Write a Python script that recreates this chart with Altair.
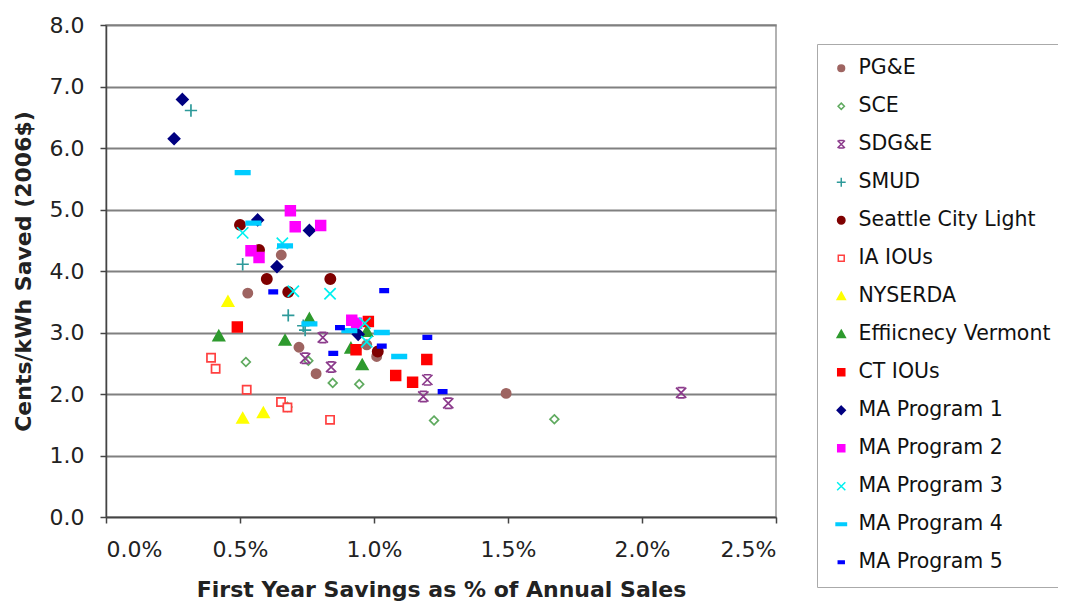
import altair as alt
import pandas as pd

series_names = ["PG&E", "SCE", "SDG&E", "SMUD", "Seattle City Light", "IA IOUs",
                "NYSERDA", "Effiicnecy Vermont", "CT IOUs", "MA Program 1",
                "MA Program 2", "MA Program 3", "MA Program 4", "MA Program 5"]

# x = first-year savings (% of annual sales), y = cents/kWh saved (2006$)
pge_x = [0.654, 0.529, 0.720, 0.973, 1.010, 0.784, 1.493]
pge_y = [4.26, 3.64, 2.76, 2.80, 2.61, 2.33, 2.01]
sce_x = [0.522, 0.755, 0.846, 0.945, 0.677, 1.224, 1.673]
sce_y = [2.52, 2.54, 2.18, 2.16, 1.79, 1.57, 1.59]
sdge_x = [0.809, 0.743, 0.840, 1.199, 1.184, 1.277, 2.146]
sdge_y = [2.92, 2.58, 2.44, 2.23, 1.96, 1.85, 2.02]
smud_x = [0.317, 0.510, 0.680, 0.736, 0.743]
smud_y = [6.61, 4.11, 3.28, 3.11, 3.04]
scl_x = [0.500, 0.571, 0.600, 0.837, 0.680, 1.014]
scl_y = [4.75, 4.34, 3.87, 3.87, 3.66, 2.69]
ia_x = [0.392, 0.409, 0.525, 0.653, 0.677, 0.836]
ia_y = [2.59, 2.41, 2.07, 1.87, 1.78, 1.58]
nyserda_x = [0.455, 0.510, 0.587]
nyserda_y = [3.50, 1.60, 1.69]
ev_x = [0.759, 0.421, 0.973, 0.668, 0.914, 0.956]
ev_y = [3.22, 2.94, 3.01, 2.87, 2.74, 2.47]
ct_x = [0.490, 0.979, 0.933, 1.197, 1.081, 1.144]
ct_y = [3.09, 3.18, 2.72, 2.56, 2.30, 2.19]
ma1_x = [0.285, 0.254, 0.566, 0.759, 0.638, 0.941]
ma1_y = [6.79, 6.15, 4.83, 4.66, 4.07, 2.97]
ma2_x = [0.688, 0.706, 0.801, 0.541, 0.571, 0.917, 0.935]
ma2_y = [4.98, 4.72, 4.74, 4.33, 4.22, 3.20, 3.15]
ma3_x = [0.510, 0.658, 0.699, 0.836, 0.966, 0.973]
ma3_y = [4.62, 4.45, 3.67, 3.63, 3.15, 2.85]
ma4_x = [0.510, 0.550, 0.668, 0.759, 0.908, 1.029, 1.094]
ma4_y = [5.60, 4.78, 4.41, 3.14, 3.03, 3.00, 2.61]
ma5_x = [0.624, 1.038, 0.873, 0.848, 1.029, 1.199, 1.256]
ma5_y = [3.66, 3.68, 3.08, 2.66, 2.78, 2.92, 2.04]

all_x = [pge_x, sce_x, sdge_x, smud_x, scl_x, ia_x, nyserda_x, ev_x, ct_x,
         ma1_x, ma2_x, ma3_x, ma4_x, ma5_x]
all_y = [pge_y, sce_y, sdge_y, smud_y, scl_y, ia_y, nyserda_y, ev_y, ct_y,
         ma1_y, ma2_y, ma3_y, ma4_y, ma5_y]

x_ticks = [0, 0.5, 1.0, 1.5, 2.0, 2.5]
y_ticks = [0, 1, 2, 3, 4, 5, 6, 7, 8]

rows = []
for name, xs, ys in zip(series_names, all_x, all_y):
    for xv, yv in zip(xs, ys):
        rows.append({"series": name, "x": xv, "y": yv})
df = pd.DataFrame(rows)

circle = "M-0.9,0A0.9,0.9,0,1,1,0.9,0A0.9,0.9,0,1,1,-0.9,0Z"
circle_big = "M-1,0A1,1,0,1,1,1,0A1,1,0,1,1,-1,0Z"
diamond_small = "M0,-0.85L0.85,0L0,0.85L-0.85,0Z"
star = "M-1,-1L1,1M-1,1L1,-1M-0.7,-1L0.7,-1M-0.7,1L0.7,1"
plus = "M-1.2,0L1.2,0M0,-1.2L0,1.2"
sq_hollow = "M-0.8,-0.8L0.8,-0.8L0.8,0.8L-0.8,0.8Z"
tri = "M0,-1.1L1.1,0.85L-1.1,0.85Z"
square = "M-0.95,-0.95L0.95,-0.95L0.95,0.95L-0.95,0.95Z"
diamond = "M0,-1.1L1.1,0L0,1.1L-1.1,0Z"
xmark = "M-1.1,-1.1L1.1,1.1M-1.1,1.1L1.1,-1.1"
dash_long = "M-1.4,-0.35L1.4,-0.35L1.4,0.35L-1.4,0.35Z"
dash_short = "M-0.8,-0.35L0.8,-0.35L0.8,0.35L-0.8,0.35Z"

shapes = [circle, diamond_small, star, plus, circle_big, sq_hollow, tri, tri,
          square, diamond, square, xmark, dash_long, dash_short]
colors = ["#9E6461", "#5FAA5F", "#8B3A8B", "#2E9A9A", "#7F0000", "#FF4040",
          "#FFFF00", "#2E9A2E", "#FF0000", "#000080", "#FF00FF", "#00F0F0",
          "#00CCFF", "#0000FF"]
fills = ["#9E6461", "white", "transparent", "transparent", "#7F0000", "white",
         "#FFFF00", "#2E9A2E", "#FF0000", "#000080", "#FF00FF", "transparent",
         "#00CCFF", "#0000FF"]

chart = alt.Chart(df).mark_point(filled=True, size=105, opacity=1, strokeWidth=1.7).encode(
    x=alt.X("x:Q", scale=alt.Scale(domain=[0, 2.5], nice=False),
            axis=alt.Axis(values=x_ticks, grid=False,
                          labelExpr="format(datum.value, '.1f') + '%'",
                          title="First Year Savings as % of Annual Sales",
                          titlePadding=19)),
    y=alt.Y("y:Q", scale=alt.Scale(domain=[0, 8], nice=False),
            axis=alt.Axis(values=y_ticks, format=".1f", grid=True,
                          gridColor="#808080", gridWidth=2,
                          title="Cents/kWh Saved (2006$)", titlePadding=14)),
    shape=alt.Shape("series:N", scale=alt.Scale(domain=series_names, range=shapes), title=None),
    fill=alt.Fill("series:N", scale=alt.Scale(domain=series_names, range=fills), title=None),
    stroke=alt.Stroke("series:N", scale=alt.Scale(domain=series_names, range=colors), title=None),
).properties(
    width=670, height=492,
    autosize=alt.AutoSizeParams(type="none"),
    padding={"left": 98, "top": 17, "right": 282, "bottom": 84},
).configure_view(
    stroke="#999999", strokeWidth=1.5
).configure_axis(
    domainColor="#444444", domainWidth=1.5, tickColor="#444444", tickWidth=1.5,
    tickSize=6, labelFont="DejaVu Sans", labelFontSize=22, labelColor="#222222",
    labelPadding=16, titleFont="DejaVu Sans", titleFontSize=22,
    titleFontWeight="bold", titleColor="#222222"
).configure_legend(
    orient="none", legendX=711, legendY=19, padding=14,
    strokeColor="#AAAAAA", fillColor="white",
    labelFont="DejaVu Sans", labelFontSize=20.5, labelColor="#111111",
    symbolSize=55, symbolStrokeWidth=1.5, rowPadding=17, labelOffset=7,
    labelLimit=400
)

chart.save("out.html", embed_options={"renderer": "svg", "actions": False})
